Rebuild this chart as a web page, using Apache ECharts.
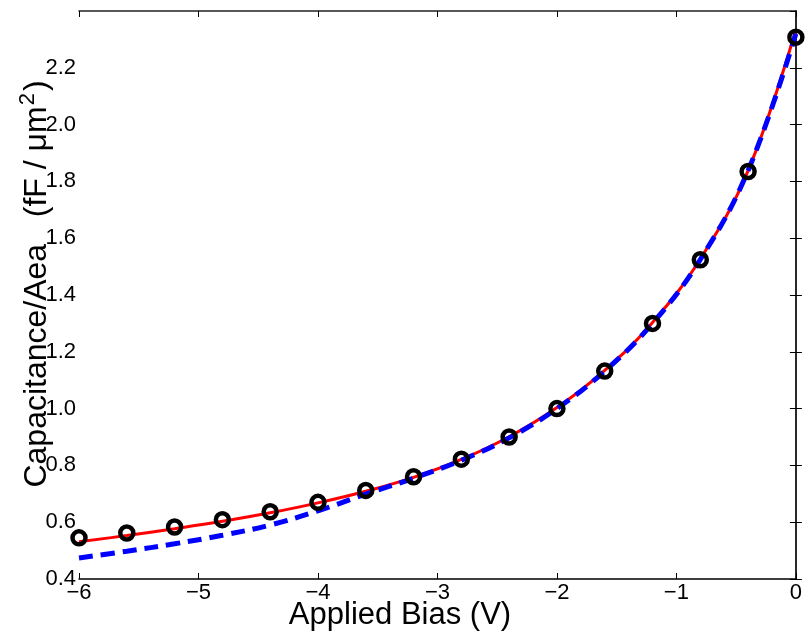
<!DOCTYPE html>
<html>
<head>
<meta charset="utf-8">
<script src="https://cdn.jsdelivr.net/npm/echarts@6/dist/echarts.min.js"></script>
<style>html,body{margin:0;padding:0;background:#fff}#c{width:805px;height:632px}</style>
</head>
<body>
<div id="c"></div>
<script>
// Measured points (circles)
const biasPts = [-6, -5.6, -5.2, -4.8, -4.4, -4.0, -3.6, -3.2, -2.8, -2.4, -2.0, -1.6, -1.2, -0.8, -0.4, 0];
const measured = [0.545, 0.562, 0.583, 0.609, 0.637, 0.670, 0.712, 0.760, 0.822, 0.900, 1.000, 1.132, 1.300, 1.524, 1.835, 2.308];
// Red solid model curve
const redBias = [-6, -5.6, -5.2, -4.8, -4.4, -4.0, -3.6, -3.2, -2.8, -2.4, -2.0, -1.6, -1.2, -0.8, -0.4, 0];
const redVals = [0.531, 0.553, 0.577, 0.603, 0.633, 0.668, 0.709, 0.758, 0.821, 0.901, 1.004, 1.135, 1.303, 1.527, 1.838, 2.335];
// Blue dashed model curve
const blueBias = [-6, -5.6, -5.2, -4.8, -4.4, -4.0, -3.6, -3.2, -2.8, -2.4, -2.0, -1.6, -1.2, -0.8, -0.4, 0];
const blueVals = [0.474, 0.498, 0.524, 0.554, 0.590, 0.640, 0.699, 0.755, 0.818, 0.897, 1.000, 1.132, 1.300, 1.525, 1.838, 2.320];
const xTicks = [-6, -5, -4, -3, -2, -1, 0];
const yTicks = [0.4, 0.6, 0.8, 1.0, 1.2, 1.4, 1.6, 1.8, 2.0, 2.2];

const font = 'Liberation Sans, Arial, Helvetica, sans-serif';
const zip = (a, b) => a.map((v, i) => [v, b[i]]);

const chart = echarts.init(document.getElementById('c'), null, {renderer: 'canvas'});
const axisLine = {show: true, lineStyle: {color: '#000', width: 1.5}};
chart.setOption({
  animation: false,
  backgroundColor: '#fff',
  grid: {left: 79, right: 6, top: 11, bottom: 53, containLabel: false},
  xAxis: [{
    type: 'value', min: -6, max: 0, interval: 1, position: 'bottom',
    axisLine: axisLine,
    axisTick: {show: true, inside: true, length: 6, lineStyle: {color: '#000', width: 1}},
    splitLine: {show: false},
    axisLabel: {color: '#000', fontSize: 22, fontFamily: font, margin: 3,
      formatter: v => String(v).replace('-', '\u2212')}
  }, {
    type: 'value', min: -6, max: 0, interval: 1, position: 'top',
    axisLine: {show: true, lineStyle: {color: '#222', width: 1.5}},
    axisTick: {show: true, inside: true, length: 6, lineStyle: {color: '#000', width: 1}},
    axisLabel: {show: false}, splitLine: {show: false}
  }],
  yAxis: [{
    type: 'value', min: 0.4, max: 2.4, interval: 0.2, position: 'left',
    axisLine: axisLine,
    axisTick: {show: true, inside: true, length: 6, lineStyle: {color: '#000', width: 1}},
    splitLine: {show: false},
    axisLabel: {color: '#000', fontSize: 22, fontFamily: font, margin: 3, showMaxLabel: false,
      formatter: v => v.toFixed(1)}
  }, {
    type: 'value', min: 0.4, max: 2.4, interval: 0.2, position: 'right',
    axisLine: {show: true, lineStyle: {color: '#222', width: 1.5}},
    axisTick: {show: true, inside: true, length: 6, lineStyle: {color: '#000', width: 1}},
    axisLabel: {show: false}, splitLine: {show: false}
  }],
  graphic: [{
    type: 'text', x: 35, y: 284, rotation: Math.PI / 2,
    style: {
      text: '{a|Capacitance/Aea   (fF / μm}{s|2}{a|)}',
      align: 'center', verticalAlign: 'middle',
      rich: {
        a: {fontSize: 32, fontFamily: font, fill: '#000', verticalAlign: 'bottom', lineHeight: 36},
        s: {fontSize: 22, fontFamily: font, fill: '#000', verticalAlign: 'top', lineHeight: 36, padding: [0, 2, 16, 1]}
      }
    }
  }, {
    type: 'text', x: 400, y: 615,
    style: {
      text: 'Applied Bias (V)', fontSize: 31, fontFamily: font, fill: '#000',
      align: 'center', verticalAlign: 'middle'
    }
  }],
  series: [{
    type: 'line', data: zip(redBias, redVals), smooth: 0.4, showSymbol: false, z: 2,
    lineStyle: {color: '#ff0000', width: 3}
  }, {
    type: 'line', data: zip(blueBias, blueVals), smooth: 0.4, showSymbol: false, z: 3,
    lineStyle: {color: '#0000ff', width: 5, type: [14, 8]}
  }, {
    type: 'scatter', data: zip(biasPts, measured), symbol: 'circle', symbolSize: 13, z: 4,
    itemStyle: {color: 'rgba(255,255,255,0)', borderColor: '#000', borderWidth: 4.5, opacity: 1}
  }]
});
</script>
</body>
</html>
